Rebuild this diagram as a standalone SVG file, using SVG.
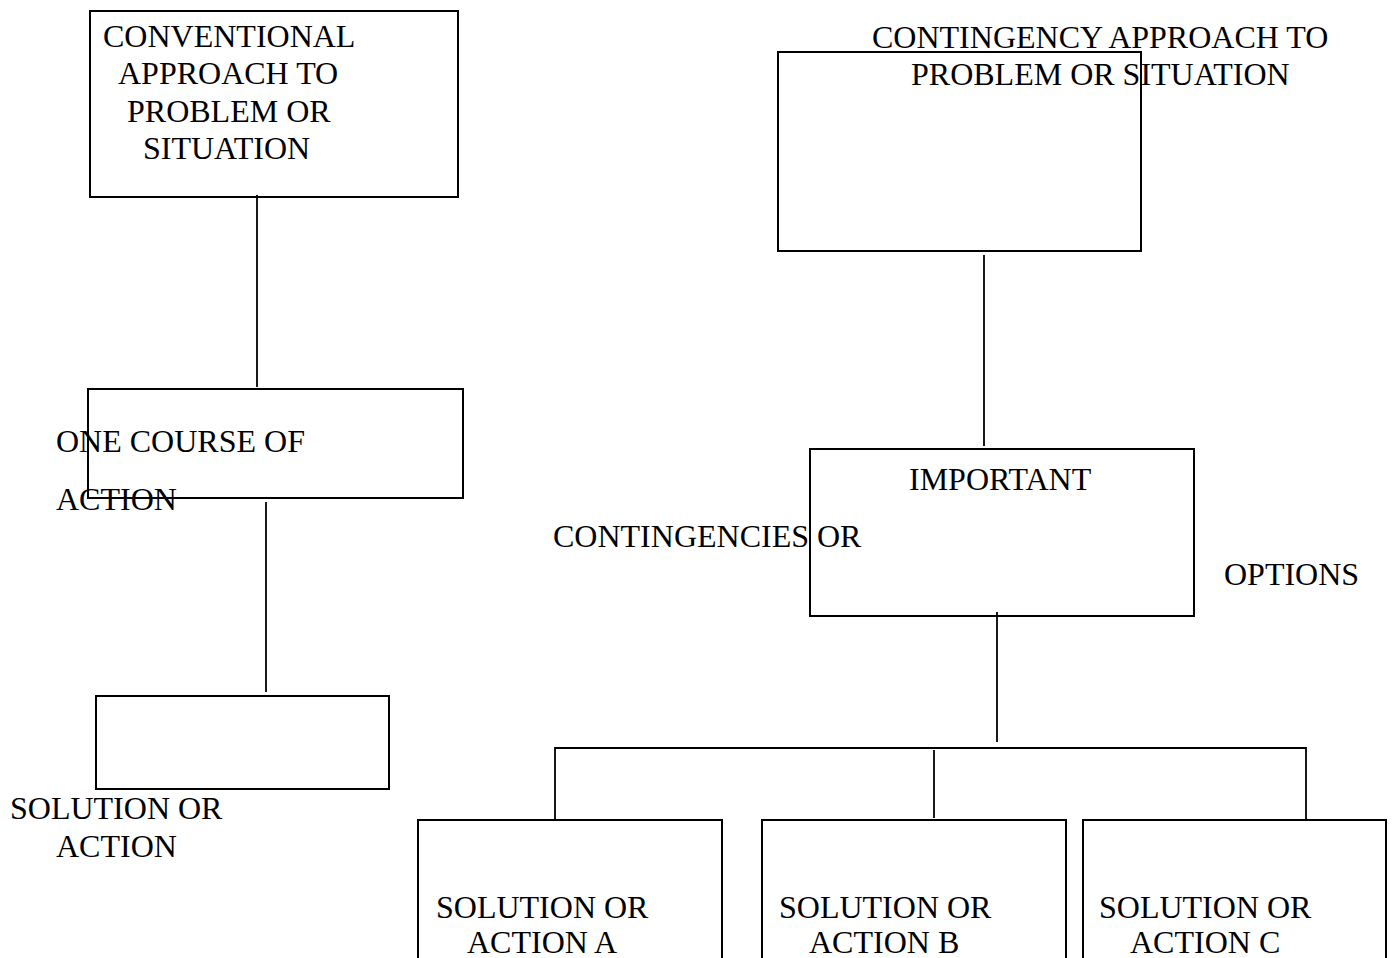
<svg xmlns="http://www.w3.org/2000/svg" width="1393" height="958" viewBox="0 0 1393 958">
  <style>
    .box { fill: none; stroke: #000; stroke-width: 2; }
    .link { fill: none; stroke: #000; stroke-width: 1.8; }
    text { font-family: "Liberation Serif", "Times New Roman", serif; font-size: 32px; fill: #000; }
  </style>
  <rect width="1393" height="958" fill="#fff"/>

  <!-- connectors -->
  <g id="connectors">
    <line class="link" x1="257" y1="195" x2="257" y2="387"/>
    <line class="link" x1="266" y1="502" x2="266" y2="692"/>
    <line class="link" x1="984" y1="255" x2="984" y2="446"/>
    <line class="link" x1="997" y1="612" x2="997" y2="742"/>
    <polyline class="link" points="555,820 555,748 1306,748 1306,820"/>
    <line class="link" x1="934" y1="750" x2="934" y2="818"/>
  </g>

  <!-- conventional approach -->
  <g id="conventional">
    <rect class="box" x="90" y="11" width="368" height="186"/>
    <text x="103" y="47">CONVENTIONAL</text>
    <text x="118" y="84">APPROACH TO</text>
    <text x="127" y="122">PROBLEM OR</text>
    <text x="143" y="159">SITUATION</text>
  </g>

  <g id="one-course">
    <rect class="box" x="88" y="389" width="375" height="109"/>
    <text x="56" y="452">ONE COURSE OF</text>
    <text x="56" y="510">ACTION</text>
  </g>

  <g id="solution">
    <rect class="box" x="96" y="696" width="293" height="93"/>
    <text x="10" y="819">SOLUTION OR</text>
    <text x="56" y="857">ACTION</text>
  </g>

  <!-- contingency approach -->
  <g id="contingency">
    <rect class="box" x="778" y="52" width="363" height="199"/>
    <text x="872" y="48">CONTINGENCY APPROACH TO</text>
    <text x="911" y="85">PROBLEM OR SITUATION</text>
  </g>

  <g id="contingencies">
    <rect class="box" x="810" y="449" width="384" height="167"/>
    <text x="909" y="490">IMPORTANT</text>
    <text x="553" y="547">CONTINGENCIES OR</text>
    <text x="1224" y="585">OPTIONS</text>
  </g>

  <g id="action-a">
    <rect class="box" x="418" y="820" width="304" height="150"/>
    <text x="436" y="918">SOLUTION OR</text>
    <text x="467" y="953">ACTION A</text>
  </g>

  <g id="action-b">
    <rect class="box" x="762" y="820" width="304" height="150"/>
    <text x="779" y="918">SOLUTION OR</text>
    <text x="809" y="953">ACTION B</text>
  </g>

  <g id="action-c">
    <rect class="box" x="1083" y="820" width="303" height="150"/>
    <text x="1099" y="918">SOLUTION OR</text>
    <text x="1130" y="953">ACTION C</text>
  </g>
</svg>
